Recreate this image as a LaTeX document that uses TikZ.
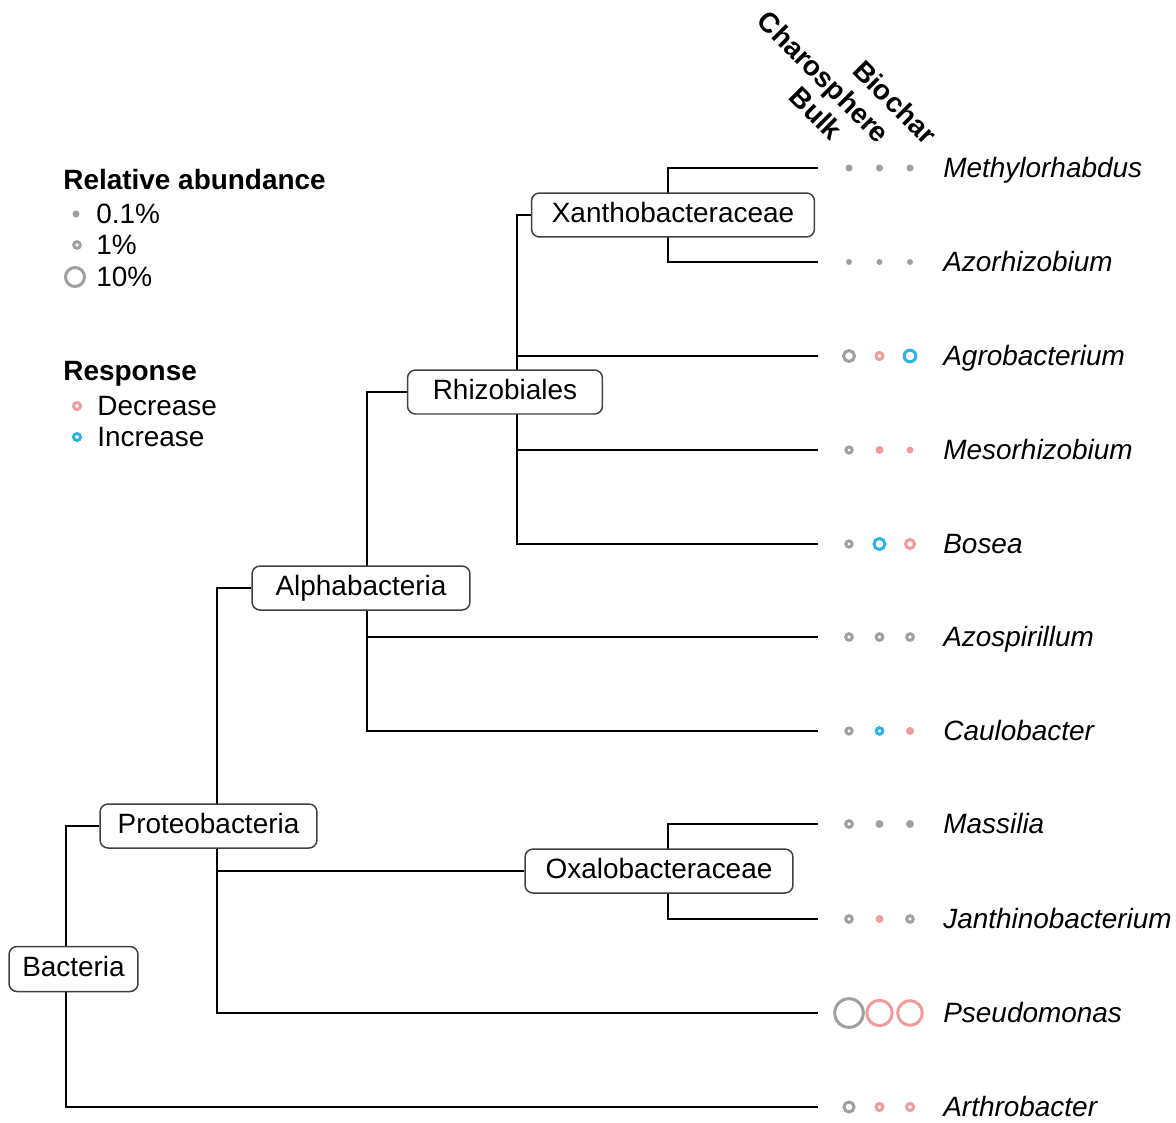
\documentclass[tikz,border=0pt]{standalone}
\usepackage{fontspec}
\setmainfont{Liberation Sans}
\usetikzlibrary{backgrounds}

\definecolor{abgrey}{RGB}{160,160,160}
\definecolor{decpink}{RGB}{240,156,156}
\definecolor{incblue}{RGB}{45,180,235}

\newcommand{\labelsize}{\fontsize{15.9pt}{19pt}\selectfont}
% column x, row y, outer radius, colour
\newcommand{\abmark}[4]{%
  \ifdim #3pt>4.2pt
    \draw[#4, line width=0.06cm] (#1,#2) circle ({#3-1.5});
  \else
    \fill[#4] (#1,#2) circle (#3);
  \fi}

\begin{document}
\begin{tikzpicture}[x=0.02cm, y=-0.02cm,
  taxbox/.style={draw=black!75, line width=0.03cm, rounded corners=0.16cm, fill=white,
    minimum height=0.88cm, inner xsep=0pt, text height=0.8em, text depth=0pt, font=\labelsize},
  branch/.style={line width=0.045cm},
  leaf/.style={anchor=west, inner sep=0pt, text height=1.12em, text depth=0pt, font=\labelsize\itshape},
  keytitle/.style={anchor=west, inner sep=0pt, text height=1.12em, text depth=0pt, font=\labelsize\bfseries},
  keytext/.style={anchor=west, inner sep=0pt, text height=1.12em, text depth=0pt, font=\labelsize},
  colhead/.style={anchor=base east, rotate=-45, inner sep=0pt, font=\labelsize\bfseries}]
  \useasboundingbox (0,0) rectangle (1176,1122);

  % legend
  \node[keytitle] (keyab) at (63,180) {Relative abundance};
  \abmark{76}{214}{3.5}{abgrey}
  \node[keytext] (key01) at (96,214) {0.1\%};
  \abmark{77}{245}{4.8}{abgrey}
  \node[keytext] (key1) at (96,245) {1\%};
  \abmark{75}{277}{11}{abgrey}
  \node[keytext] (key10) at (96,277) {10\%};
  \node[keytitle] (keyresp) at (63,371) {Response};
  \abmark{77}{406}{5}{decpink}
  \node[keytext] (keydec) at (97,406) {Decrease};
  \abmark{77}{437}{5}{incblue}
  \node[keytext] (keyinc) at (97,437) {Increase};

  % column heads
  \node[colhead] (hbulk) at (831,142) {Bulk};
  \node[colhead] (hcharo) at (878,145) {Charosphere};
  \node[colhead] (hbiochar) at (925,146) {Biochar};

  % genera
  \foreach \name/\y/\txt in {methyl/168/Methylorhabdus, azorh/262/Azorhizobium,
      agro/356/Agrobacterium, meso/450/Mesorhizobium, bosea/544/Bosea,
      azosp/637/Azospirillum, caulo/731/Caulobacter, massil/824/Massilia,
      janth/919/Janthinobacterium, pseudo/1013/Pseudomonas, arthro/1107/Arthrobacter} {
    \node[leaf] (\name) at (943,\y) {\txt};
    \coordinate (t-\name) at (818,\y);
  }

  % abundance marks: bulk, charosphere, biochar
  \foreach \y/\ra/\ca/\rb/\cb/\rc/\cc in {
      168/3.5/abgrey/3.5/abgrey/3.5/abgrey,
      262/3/abgrey/3/abgrey/3/abgrey,
      356/7/abgrey/5/decpink/7.3/incblue,
      450/4.6/abgrey/4/decpink/3.5/decpink,
      544/4.6/abgrey/7/incblue/6/decpink,
      637/4.8/abgrey/4.8/abgrey/4.8/abgrey,
      731/4.6/abgrey/4.8/incblue/4/decpink,
      824/4.8/abgrey/4/abgrey/4/abgrey,
      919/4.8/abgrey/4/decpink/4.8/abgrey,
      1013/15.8/abgrey/14.2/decpink/13.8/decpink,
      1107/6.5/abgrey/5/decpink/5/decpink} {
    \abmark{849}{\y}{\ra}{\ca}
    \abmark{879.5}{\y}{\rb}{\cb}
    \abmark{910}{\y}{\rc}{\cc}
  }

  % taxa
  \node[taxbox, minimum width=5.66cm] (xantho) at (673,215) {Xanthobacteraceae};
  \node[taxbox, minimum width=3.9cm] (rhizo) at (505,392) {Rhizobiales};
  \node[taxbox, minimum width=4.36cm] (alpha) at (361,588) {Alphabacteria};
  \node[taxbox, minimum width=4.34cm] (proteo) at (208.5,826) {Proteobacteria};
  \node[taxbox, minimum width=2.58cm, minimum height=0.9cm] (bact) at (73.5,969) {Bacteria};
  \node[taxbox, minimum width=5.36cm] (oxalo) at (659,871) {Oxalobacteraceae};

  \coordinate (j-xantho) at (668,215);
  \coordinate (j-rhizo) at (517,392);
  \coordinate (j-alpha) at (367,588);
  \coordinate (j-proteo) at (217,826);
  \coordinate (j-oxalo) at (668,871);
  \coordinate (j-bact) at (66,969);

  \begin{pgfonlayer}{background}
    \draw[branch] (t-methyl) -| (j-xantho) |- (t-azorh);
    \draw[branch] (xantho.west) -| (j-rhizo) |- (t-bosea);
    \draw[branch] (j-rhizo |- t-agro) -- (t-agro);
    \draw[branch] (j-rhizo |- t-meso) -- (t-meso);
    \draw[branch] (rhizo.west) -| (j-alpha) |- (t-caulo);
    \draw[branch] (j-alpha |- t-azosp) -- (t-azosp);
    \draw[branch] (alpha.west) -| (j-proteo) |- (t-pseudo);
    \draw[branch] (j-proteo |- oxalo) -- (oxalo.west);
    \draw[branch] (t-massil) -| (j-oxalo) |- (t-janth);
    \draw[branch] (proteo.west) -| (j-bact) |- (t-arthro);
  \end{pgfonlayer}
\end{tikzpicture}
\end{document}
